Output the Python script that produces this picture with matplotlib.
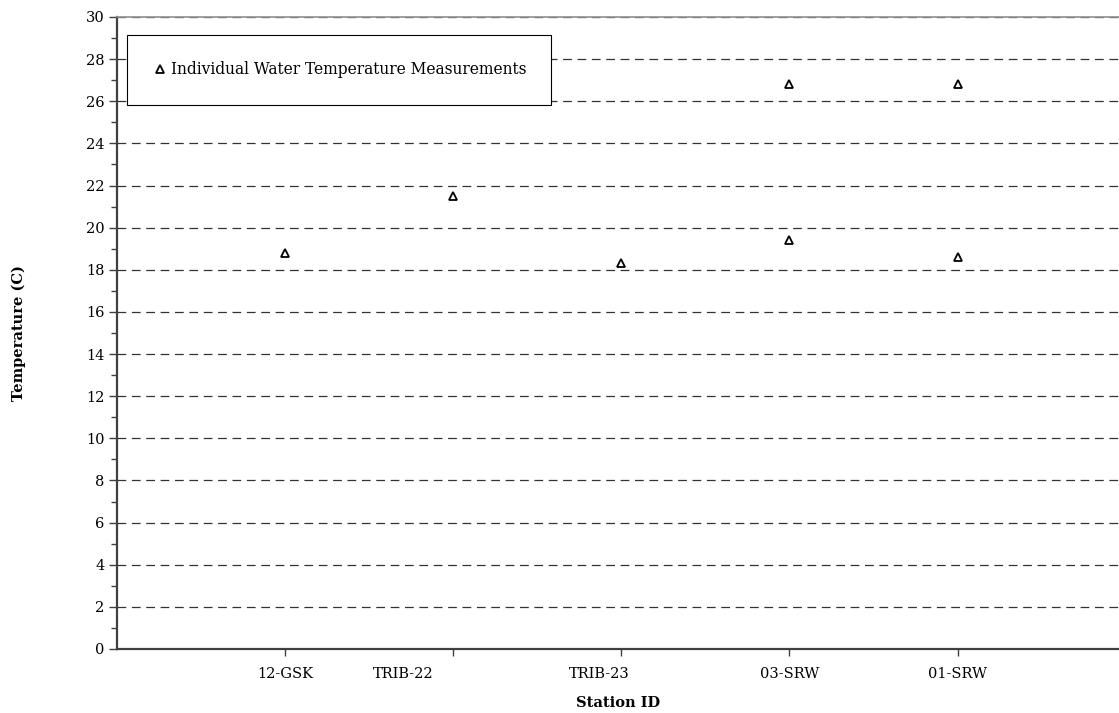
import matplotlib.pyplot as plt
from matplotlib.ticker import MultipleLocator
from matplotlib.transforms import ScaledTranslation
import numpy as np

# データ
stations = ['12-GSK', 'TRIB-22', 'TRIB-23', '03-SRW', '01-SRW']
station_pos = [1, 2, 3, 4, 5]
# 各測定値（ステーション番号, 水温）
meas_station = [1, 2, 3, 4, 4, 5, 5]
meas_temp = [18.8, 21.5, 18.3, 26.8, 19.4, 26.8, 18.6]

plt.rcParams['font.family'] = ['DejaVu Serif']

fig = plt.figure(figsize=(11.19, 7.13), dpi=100)
ax = fig.add_axes([117 / 1119, 64 / 713, 1002 / 1119, 632 / 713])

ax.plot(meas_station, meas_temp, linestyle='none', marker='^',
        markersize=6, markerfacecolor='white', markeredgecolor='black',
        markeredgewidth=1.3, label='Individual Water Temperature Measurements',
        zorder=3)

ax.set_xlim(0, 5.96)
ax.set_ylim(0, 30)
ax.yaxis.set_major_locator(MultipleLocator(2))
ax.yaxis.set_minor_locator(MultipleLocator(1))
ax.set_xticks(station_pos)
ax.set_xticklabels(stations)

# グリッド
ax.grid(True, axis='y', which='major', linestyle=(0, (7, 4.5)),
        color='#333333', linewidth=0.9)
ax.set_axisbelow(True)

for side in ['left', 'bottom']:
    ax.spines[side].set_color('#404040')
    ax.spines[side].set_linewidth(1.6)
ax.spines['top'].set_color('#909090')
ax.spines['top'].set_linewidth(1.2)
ax.spines['right'].set_visible(False)

ax.tick_params(axis='y', which='major', length=6, width=1, color='#404040',
               labelsize=10.5, pad=3)
ax.tick_params(axis='y', which='minor', length=4, width=1, color='#404040')
ax.tick_params(axis='x', which='major', length=5, width=1, color='#404040',
               labelsize=10.5, pad=8)

# ラベルの位置調整（元の図に合わせる）
offsets = {'TRIB-22': -50, 'TRIB-23': -22}
for lbl in ax.get_xticklabels():
    dx = offsets.get(lbl.get_text(), 0)
    if dx:
        lbl.set_transform(lbl.get_transform() +
                          ScaledTranslation(dx / 100, 0, fig.dpi_scale_trans))

ax.set_xlabel('Station ID', fontsize=10.5, fontweight='bold', labelpad=11)
ax.set_ylabel('Temperature (C)', fontsize=10.5, fontweight='bold', labelpad=43)

leg = ax.legend(loc='upper left', bbox_to_anchor=(0.01, 0.868, 0.423, 0.104),
                mode='expand', fontsize=11.2, frameon=True, fancybox=False,
                borderpad=1.72, handlelength=0.8, handletextpad=0.3,
                borderaxespad=0, framealpha=1)
leg.get_frame().set_edgecolor('black')
leg.get_frame().set_linewidth(0.8)

fig.savefig('out.png', dpi=100)
